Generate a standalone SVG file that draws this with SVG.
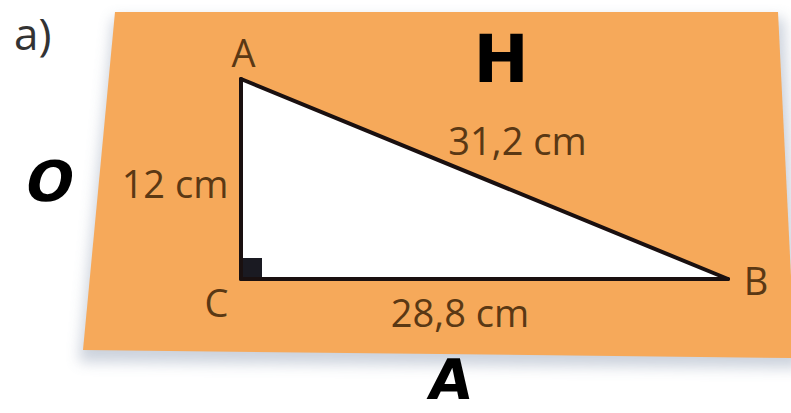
<svg xmlns="http://www.w3.org/2000/svg" width="791" height="413" viewBox="0 0 791 413">
  <style>
    .lbl { font-family: "Open Sans", "Noto Sans", sans-serif; font-size: 38px; fill: #5a3814; text-anchor: middle; }
    .big { font-family: "DejaVu Sans", sans-serif; font-weight: bold; fill: #000; text-anchor: middle; }
    .edge { stroke: #1a1010; stroke-width: 4; fill: none; stroke-linecap: round; stroke-linejoin: round; }
  </style>
  <defs>
    <filter id="blur" x="-10%" y="-20%" width="120%" height="150%">
      <feGaussianBlur stdDeviation="7"/>
    </filter>
  </defs>
  <rect width="791" height="413" fill="#ffffff"/>
  <g id="sheet">
    <polygon points="113,18 784,18 801,368 79,362" fill="#8e9cb3" opacity="0.45" filter="url(#blur)"/>
    <polygon points="115,12 778,12 795,358 83,350" fill="#f6a95a"/>
  </g>
  <g id="triangle">
    <polygon points="241,79 241,279 728,279" fill="#ffffff"/>
    <rect x="241" y="258" width="21" height="21" fill="#1a1a22"/>
  </g>
  <g id="connectors">
    <line class="edge" x1="241" y1="79" x2="241" y2="279"/>
    <line class="edge" x1="241" y1="279" x2="728" y2="279"/>
    <line class="edge" x1="241" y1="79" x2="728" y2="279"/>
  </g>
  <g id="vertex-A"><text class="lbl" x="243.5" y="67">A</text></g>
  <g id="vertex-B"><text class="lbl" x="756" y="295">B</text></g>
  <g id="vertex-C"><text class="lbl" x="216.5" y="317">C</text></g>
  <g id="side-labels">
    <text class="lbl" x="517.5" y="155">31,2 cm</text>
    <text class="lbl" x="175" y="198">12 cm</text>
    <text class="lbl" x="460" y="327">28,8 cm</text>
  </g>
  <g id="letters">
    <text class="big" x="501" y="82" font-size="66">H</text>
    <text class="big" x="46" y="201" font-size="56" transform="skewX(-12) translate(42.7,0)">O</text>
    <text class="big" x="448" y="399" font-size="56" transform="skewX(-8) translate(56.1,0)">A</text>
  </g>
  <text x="14" y="50" font-family="'Open Sans', 'Noto Sans', sans-serif" font-size="44" fill="#333333">a)</text>
</svg>
